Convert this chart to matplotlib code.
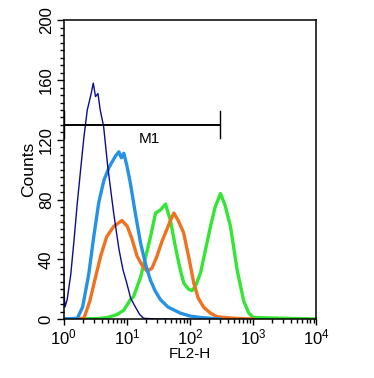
import numpy as np
import matplotlib
matplotlib.use('Agg')
import matplotlib.pyplot as plt
import matplotlib.ticker as ticker

plt.rcParams['font.family'] = ['Liberation Sans', 'DejaVu Sans']
plt.rcParams['mathtext.fontset'] = 'custom'
plt.rcParams['mathtext.rm'] = 'Liberation Sans'
plt.rcParams['mathtext.it'] = 'Liberation Sans'

# dark blue (thin) histogram
x_navy = [1.0, 1.01, 1.05, 1.14, 1.3, 1.45, 1.65, 1.86, 2.1, 2.37, 2.7, 2.95, 3.2, 3.5, 3.8, 4.3, 5.0, 6.2, 7.5, 8.7, 10, 11.5, 13.7, 16, 18.5, 30, 60, 100]
y_navy = [42, 20, 8, 13, 30, 51, 78, 100, 122, 140, 150, 158, 149, 151, 140, 129, 102, 71, 47, 33, 24, 14, 8, 3, 0.5, 0, 0, 0]

# light blue histogram
x_lblue = [1.0, 1.65, 2.0, 2.5, 3.0, 3.6, 4.35, 5.3, 6.6, 7.5, 8.2, 8.97, 10, 11.4, 13.5, 16.5, 20, 23.7, 28, 34, 45, 70, 100, 147, 300]
y_lblue = [0, 0.5, 8, 30, 55, 78, 93, 102, 109, 112, 108, 111, 103, 91, 72, 51, 36, 26, 19, 13, 8, 4, 2, 1, 0]

# orange histogram
x_orange = [1.0, 2.1, 2.6, 3.2, 3.85, 4.8, 6.2, 7.2, 8.4, 10.2, 12, 14.6, 17.5, 21, 25, 30, 36, 43, 49, 55.6, 65, 79, 95, 115, 135, 164, 210, 268, 500, 1000]
y_orange = [0, 0.5, 12, 28, 42, 55, 62, 64, 66, 62, 54, 42, 36, 32, 34, 42, 52, 60, 66, 71, 66, 58, 42, 24, 14, 8, 4, 1.5, 0.5, 0]

# green histogram
x_green = [1.0, 3.5, 4.9, 7, 9, 11.4, 12.8, 16.5, 20, 23.7, 28.5, 34, 41, 49, 56, 63, 72, 80, 95, 108, 125, 147, 175, 211, 250, 304, 360, 437, 556, 708, 850, 1000, 10000]
y_green = [0, 0.3, 1, 3, 6, 13, 15, 28, 42, 55, 71, 73, 77, 66, 53, 42, 31, 24, 20, 19, 23, 31, 46, 62, 75, 84, 76, 62, 33, 12, 4, 1, 0]

# M1 marker
m1_left, m1_right, m1_y = 1.0, 296, 130

fig = plt.figure(figsize=(3.74, 3.78), dpi=100)
ax = fig.add_axes([0.170, 0.156, 0.676, 0.790])

ax.plot(x_green, y_green, color='#33e633', lw=2.4)
ax.plot(x_orange, y_orange, color='#f0711e', lw=2.4)
ax.plot(x_lblue, y_lblue, color='#2592e6', lw=2.4)
ax.plot(x_navy, y_navy, color='#0c0c8c', lw=1.0)

ax.plot([m1_left, m1_right], [m1_y, m1_y], color='black', lw=1.4)
ax.plot([m1_left, m1_left], [m1_y - 9, m1_y + 9], color='black', lw=1.0)
ax.plot([m1_right, m1_right], [m1_y - 9, m1_y + 9], color='black', lw=1.0)
ax.text(23, m1_y - 5, 'M1', ha='center', va='top', fontsize=11)

ax.set_xscale('log')
ax.set_xlim(1, 1e4)
ax.set_ylim(0, 200)
ax.xaxis.set_minor_locator(ticker.LogLocator(base=10, subs=np.arange(2, 10), numticks=10))
ax.xaxis.set_minor_formatter(ticker.NullFormatter())
ax.set_xticks([1, 10, 100, 1000, 10000])
ax.set_xticklabels([r'$10^{0}$', r'$10^{1}$', r'$10^{2}$', r'$10^{3}$', r'$10^{4}$'])
ax.yaxis.set_major_locator(ticker.MultipleLocator(40))
ax.yaxis.set_minor_locator(ticker.MultipleLocator(5))

ax.tick_params(which='major', direction='out', length=4, width=1, labelsize=12, pad=2)
ax.tick_params(which='minor', direction='out', length=3, width=1)
ax.tick_params(axis='y', which='major', length=5)
for s in ax.spines.values():
    s.set_linewidth(1.1)

plt.setp(ax.get_yticklabels(), rotation=90, va='center')

ax.set_xlabel('FL2-H', fontsize=11, labelpad=0)
ax.set_ylabel('Counts', fontsize=12.5, labelpad=2)

fig.savefig('out.png', dpi=100)
